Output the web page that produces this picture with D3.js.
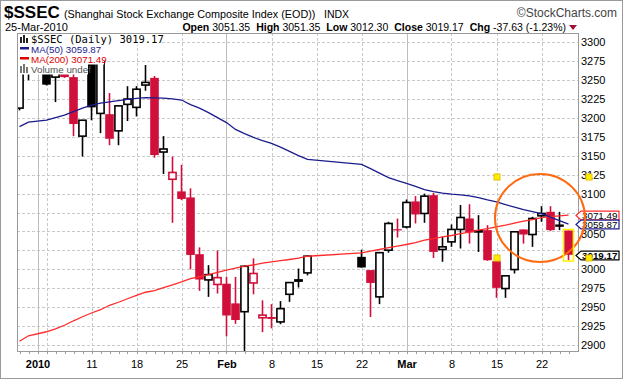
<!DOCTYPE html>
<html>
<head>
<meta charset="utf-8">
<script src="https://cdn.jsdelivr.net/npm/d3@7/dist/d3.min.js"></script>
<style>
  body { margin: 0; background: #fff; }
  svg text { font-family: "Liberation Sans", Arial, sans-serif; }
</style>
</head>
<body>
<div id="chart"></div>
<script>
// trading days shown ($SSEC daily, Dec 30 2009 - Mar 25 2010)
const dates = [
  '2009-12-30','2009-12-31','2010-01-04','2010-01-05','2010-01-06','2010-01-07','2010-01-08',
  '2010-01-11','2010-01-12','2010-01-13','2010-01-14','2010-01-15','2010-01-18','2010-01-19',
  '2010-01-20','2010-01-21','2010-01-22','2010-01-25','2010-01-26','2010-01-27','2010-01-28',
  '2010-01-29','2010-02-01','2010-02-02','2010-02-03','2010-02-04','2010-02-05','2010-02-08',
  '2010-02-09','2010-02-10','2010-02-11','2010-02-12','2010-02-22','2010-02-23','2010-02-24',
  '2010-02-25','2010-02-26','2010-03-01','2010-03-02','2010-03-03','2010-03-04','2010-03-05',
  '2010-03-08','2010-03-09','2010-03-10','2010-03-11','2010-03-12','2010-03-15','2010-03-16',
  '2010-03-17','2010-03-18','2010-03-19','2010-03-22','2010-03-23','2010-03-24','2010-03-25'
];
const opens = [
  3213, 3263, 3290, 3254, 3278, 3254, 3176,
  3303, 3206, 3205, 3183, 3218, 3214, 3243.5,
  3253, 3155, 3119, 3103, 3095, 3020, 2986,
  2980, 2981, 2955, 2944, 2982, 2936, 2937,
  2930.5, 2967, 2985, 2995.3, 3016.5, 2999, 2963.6,
  3025.3, 3053, 3056, 3089.7, 3073.8, 3098, 3026.2,
  3036.3, 3052.7, 3067.2, 3049.5, 3051.8, 3010.8, 2974.6,
  2999.7, 3052.7, 3046, 3070.7, 3076, 3059.3, 3051.35
];
const highs = [
  3266, 3281, 3295, 3290, 3296, 3268, 3197,
  3306, 3282, 3233, 3217, 3242, 3242, 3270,
  3255.5, 3176, 3149, 3138, 3107, 3029, 3005.5,
  3025, 2990, 2990, 3005.5, 3014.5, 2959, 2954,
  2958, 2982.5, 3001, 3018.7, 3026, 2999, 3022,
  3062.8, 3067, 3092.3, 3096.7, 3100, 3101, 3043,
  3059.3, 3085, 3086, 3071.6, 3058.4, 3010.8, 2991.4,
  3049.6, 3052.7, 3069.4, 3083.5, 3083.5, 3076, 3051.35
];
const lows = [
  3210, 3250, 3243, 3221, 3253, 3176, 3149,
  3197, 3180, 3164, 3164, 3196, 3202, 3236,
  3147.5, 3126, 3061.5, 3091.5, 3000, 2971.5, 2963.6,
  2968, 2911.5, 2928, 2888, 2967, 2917, 2922,
  2927.5, 2957, 2976, 2992, 3002.4, 2937, 2954,
  3022, 3042, 3054, 3060.6, 3061.5, 3015, 3010,
  3029.7, 3027.5, 3034, 3023, 3011.2, 2962.3, 2962.3,
  2994.5, 3034, 3029.7, 3062.8, 3050.5, 3051.8, 3012.3
];
const closes = [
  3262, 3277, 3244, 3282, 3254, 3192, 3197,
  3214, 3274, 3172.5, 3216, 3225, 3238, 3247,
  3151, 3159, 3128, 3093, 3019, 2986.5, 2993,
  2989, 2939, 2933, 3004, 2994.5, 2939.5, 2934.5,
  2948, 2982.5, 2986, 3017.4, 3002.4, 2982, 3022,
  3060.6, 3051.5, 3088.4, 3072.5, 3096.7, 3023, 3029.7,
  3052.7, 3068.5, 3048.7, 3051, 3012, 2975.5, 2991.4,
  3049.6, 3046, 3067.2, 3073.8, 3051.8, 3056.2, 3019.17
];
const ma50 = [
  3188.5, 3194.6, 3197.2, 3200.5, 3203.8, 3208.5, 3213.1,
  3217.1, 3219.7, 3221.4, 3223.0, 3224.6, 3225.9, 3227.0,
  3226.6, 3226.3, 3225.3, 3223.7, 3217.7, 3213.1, 3207.1,
  3200.5, 3193.9, 3184.9, 3179.4, 3174.3, 3170.1, 3166.4,
  3161.5, 3155.8, 3150.3, 3145.2, 3138.6, 3133.1, 3127.1,
  3121.2, 3117.2, 3113.5, 3109.5, 3105.3, 3102.6, 3100.7,
  3099.3, 3098.3, 3097.1, 3094.7, 3091.8, 3089.2, 3085.4,
  3082.1, 3078.8, 3076.2, 3073.5, 3068.9, 3064.3, 3059.87
];
const ma200 = [
  2904.9, 2912.2, 2917.5, 2921.4, 2926.1, 2932.0, 2937.3,
  2942.3, 2946.6, 2952.5, 2956.5, 2961.1, 2965.7, 2969.7,
  2971.9, 2975.7, 2979.6, 2983.3, 2987.6, 2990.2, 2992.9,
  2995.9, 2998.8, 3001.5, 3004.1, 3005.7, 3008.1, 3009.8,
  3011.4, 3013.0, 3014.7, 3017.3, 3021.7, 3024.0, 3026.2,
  3028.6, 3030.6, 3032.8, 3035.2, 3038.5, 3040.7, 3042.9,
  3044.7, 3047.1, 3049.1, 3051.7, 3053.7, 3056.1, 3058.3,
  3061.0, 3063.6, 3065.6, 3068.3, 3069.6, 3070.5, 3071.49
];
const priceTicks = [2900, 2925, 2950, 2975, 3000, 3025, 3050, 3075, 3100,
                    3125, 3150, 3175, 3200, 3225, 3250, 3275, 3300];
const xTickDates = ['2010-01-01','2010-01-11','2010-01-18','2010-01-25','2010-02-01','2010-02-08',
                    '2010-02-15','2010-02-22','2010-03-01','2010-03-08','2010-03-15','2010-03-22'];
const xTickLabels = ['2010','11','18','25','Feb','8','15','22','Mar','8','15','22'];
const boldTicks = ['2010','Feb','Mar'];
const monthLines = ['2010-01-01','2010-02-01','2010-03-01'];
const weekLines = ['2010-01-04','2010-01-11','2010-01-18','2010-01-25','2010-02-08',
                   '2010-02-15','2010-02-22','2010-03-08','2010-03-15','2010-03-22'];

const W = 623, H = 379;
const plot = {left: 17, right: 578, top: 33, bottom: 351};
const RED = '#d0103a', NAVY = '#1c1c8c', MARED = '#ff2a2a';

// weekday position, weekends dropped, holidays kept as gaps
const parse = d3.utcParse('%Y-%m-%d');
const day0 = parse(dates[0]);
function wd(s) {
    const d = parse(s);
    return d3.utcDays(day0, d).filter(t => t.getUTCDay() % 6 !== 0).length;
}
const idx = dates.map(wd);

const x = d3.scaleLinear().domain([0, 61]).range([19.5, 568.5]);
const y = d3.scaleLinear().domain([2900, 3300]).range([345, 42.3]);

const svg = d3.select('#chart').append('svg')
    .attr('width', W).attr('height', H);

svg.append('rect').attr('x', 0.5).attr('y', 0.5).attr('width', W - 1).attr('height', H - 1)
    .attr('fill', '#fff').attr('stroke', '#9a9a9a');

svg.append('clipPath').attr('id', 'clip')
    .append('rect')
    .attr('x', plot.left).attr('y', plot.top)
    .attr('width', plot.right - plot.left).attr('height', plot.bottom - plot.top);

// grid
const grid = svg.append('g').attr('clip-path', 'url(#clip)');
grid.selectAll('.hgrid').data(priceTicks).enter().append('line')
    .attr('x1', plot.left).attr('x2', plot.right)
    .attr('y1', d => Math.round(y(d)) + 0.5).attr('y2', d => Math.round(y(d)) + 0.5)
    .attr('stroke', '#c9c9c9').attr('stroke-dasharray', '3,2');
grid.selectAll('.vgrid').data(weekLines).enter().append('line')
    .attr('x1', d => Math.round(x(wd(d))) + 0.5).attr('x2', d => Math.round(x(wd(d))) + 0.5)
    .attr('y1', plot.top).attr('y2', plot.bottom)
    .attr('stroke', '#c9c9c9').attr('stroke-dasharray', '3,2');
grid.selectAll('.mgrid').data(monthLines).enter().append('line')
    .attr('x1', d => Math.round(x(wd(d))) + 0.5).attr('x2', d => Math.round(x(wd(d))) + 0.5)
    .attr('y1', plot.top).attr('y2', plot.bottom)
    .attr('stroke', '#bdbdbd');

// candles: hollow when close >= open, red when below previous close
// (first session after a holiday gap is drawn black)
const candles = dates.map((d, i) => {
    const prevGap = i === 0 || idx[i] - idx[i - 1] > 1;
    const down = !prevGap && closes[i] < closes[i - 1];
    return {i: idx[i], o: opens[i], h: highs[i], l: lows[i], c: closes[i],
            color: down ? RED : '#000', hollow: closes[i] >= opens[i]};
});

const cg = svg.append('g').attr('clip-path', 'url(#clip)');
cg.selectAll('.wick').data(candles).enter().append('line')
    .attr('x1', d => x(d.i)).attr('x2', d => x(d.i))
    .attr('y1', d => y(d.h)).attr('y2', d => y(d.l))
    .attr('stroke', d => d.color).attr('stroke-width', 1.6);
cg.selectAll('.body').data(candles).enter().append('rect')
    .attr('x', d => x(d.i) - (d.hollow ? 3.6 : 4.3))
    .attr('width', d => d.hollow ? 7.2 : 8.6)
    .attr('y', d => y(Math.max(d.o, d.c)))
    .attr('height', d => Math.max(1.2, y(Math.min(d.o, d.c)) - y(Math.max(d.o, d.c))))
    .attr('fill', d => d.hollow ? '#fff' : d.color)
    .attr('stroke', d => d.hollow ? d.color : 'none')
    .attr('stroke-width', 1.6);

// moving averages
const line = d3.line().x(d => x(d[0])).y(d => y(d[1]));
cg.append('path').datum(idx.map((v, i) => [v, ma200[i]]))
    .attr('d', line).attr('fill', 'none').attr('stroke', MARED).attr('stroke-width', 1.3);
cg.append('path').datum(idx.map((v, i) => [v, ma50[i]]))
    .attr('d', line).attr('fill', 'none').attr('stroke', NAVY).attr('stroke-width', 1.3);

// frame
svg.append('rect').attr('x', plot.left + 0.5).attr('y', plot.top + 0.5)
    .attr('width', plot.right - plot.left).attr('height', plot.bottom - plot.top)
    .attr('fill', 'none').attr('stroke', '#9a9a9a');

// day ticks under the frame
svg.selectAll('.dtick').data(d3.range(0, 62)).enter().append('line')
    .attr('x1', d => Math.round(x(d)) + 0.5).attr('x2', d => Math.round(x(d)) + 0.5)
    .attr('y1', plot.bottom + 1).attr('y2', plot.bottom + 3)
    .attr('stroke', '#9a9a9a');

// value tags on the right edge; axis labels they hide are left out
const tags = [
    {v: ma200[ma200.length - 1], stroke: MARED, bold: false},
    {v: ma50[ma50.length - 1], stroke: NAVY, bold: false},
    {v: closes[closes.length - 1], stroke: '#000', bold: true}
];
const shownTicks = priceTicks.filter(t => tags.every(g => Math.abs(y(t) - y(g.v)) > 5));

// axes
const yAxis = d3.axisRight(y).tickValues(shownTicks).tickSize(0).tickPadding(3)
    .tickFormat(d3.format('d'));
const ya = svg.append('g').attr('transform', 'translate(' + plot.right + ',0)').call(yAxis);
ya.select('.domain').remove();
ya.selectAll('text').attr('font-size', 11).attr('fill', '#000')
    .style('font-family', '"Liberation Sans", Arial, sans-serif');
// the 3050 label sits half under the MA(50) tag, as in the original
ya.selectAll('.tick').filter(d => d === 3050).select('text').attr('dy', '0.55em');

const xAxis = d3.axisBottom(x).tickValues(xTickDates.map(wd)).tickSize(0).tickPadding(9)
    .tickFormat((d, i) => xTickLabels[i]);
const xa = svg.append('g').attr('transform', 'translate(0,' + plot.bottom + ')').call(xAxis);
xa.select('.domain').remove();
xa.selectAll('text').attr('font-size', 11).attr('fill', '#000')
    .style('font-family', '"Liberation Sans", Arial, sans-serif')
    .attr('font-weight', (d, i) => boldTicks.includes(xTickLabels[i]) ? 'bold' : 'normal');

const tg = svg.selectAll('.tag').data(tags).enter().append('g')
    .attr('transform', d => 'translate(' + (plot.right - 2) + ',' + (Math.round(y(d.v)) + 0.5) + ')');
tg.append('path')
    .attr('d', 'M0,0 L5,-4.4 L43,-4.4 L43,4.4 L5,4.4 Z')
    .attr('fill', '#fff').attr('stroke', d => d.stroke).attr('stroke-width', 1.2);
tg.append('text').attr('x', 6).attr('y', 3.4)
    .attr('font-size', 9.8).attr('font-weight', d => d.bold ? 'bold' : 'normal')
    .text(d => d.v.toFixed(2));

// annotation: circle and selection handles
svg.append('ellipse').attr('cx', 540).attr('cy', 218).attr('rx', 45).attr('ry', 44)
    .attr('fill', 'none').attr('stroke', '#ff6a10').attr('stroke-width', 2);
const last = candles[candles.length - 1];
svg.append('rect')
    .attr('x', x(last.i) - 5).attr('y', y(last.o) - 1)
    .attr('width', 10).attr('height', y(last.l) - y(last.o) + 2)
    .attr('fill', 'none').attr('stroke', '#ffee00').attr('stroke-width', 1.5);
const handles = [[497, 177], [589, 177], [497, 258], [589, 258]];
svg.selectAll('.handle').data(handles).enter().append('rect')
    .attr('x', d => d[0] - 3).attr('y', d => d[1] - 3).attr('width', 6).attr('height', 6)
    .attr('fill', '#ffee00').attr('stroke', '#e8c000');

// legend box
const lg = svg.append('g');
const lgLines = [
    {t: '$SSEC (Daily) 3019.17', w: 141, color: '#000', mono: true},
    {t: 'MA(50) 3059.87', w: 78, color: NAVY},
    {t: 'MA(200) 3071.49', w: 86, color: '#e00000'},
    {t: 'Volume undef', w: 70, color: '#555'}
];
lgLines.forEach((d, i) => {
    lg.append('rect').attr('x', plot.left + 1).attr('y', plot.top + 1 + i * 10)
        .attr('width', d.w).attr('height', 10.5).attr('fill', '#fff');
});
lgLines.forEach((d, i) => {
    lg.append('text').attr('x', 31).attr('y', plot.top + 9.5 + i * 10.2)
        .attr('font-size', d.mono ? 10.5 : 9.8).attr('fill', d.color)
        .style('font-family', d.mono ? '"DejaVu Sans Mono", monospace' : '"Liberation Sans", Arial, sans-serif')
        .text(d.t);
});
lg.append('rect').attr('x', 20).attr('y', 47).attr('width', 9).attr('height', 2.5).attr('fill', NAVY);
lg.append('rect').attr('x', 20).attr('y', 57).attr('width', 9).attr('height', 2.5).attr('fill', '#e00000');
// small icons
[[20, 37, 2, 6], [23, 35, 2, 8], [26, 38, 2, 5]].forEach(r =>
    lg.append('rect').attr('x', r[0]).attr('y', r[1]).attr('width', r[2]).attr('height', r[3]).attr('fill', '#222'));
[[20, 66, 2, 7], [23, 64, 2, 9], [26, 67, 2, 6]].forEach(r =>
    lg.append('rect').attr('x', r[0]).attr('y', r[1]).attr('width', r[2]).attr('height', r[3]).attr('fill', '#777'));

// header
const hd = svg.append('g');
hd.append('text').attr('x', 4).attr('y', 18).attr('font-size', 17).attr('font-weight', 'bold').text('$SSEC');
hd.append('text').attr('x', 64).attr('y', 18).attr('font-size', 10.8)
    .text('(Shanghai Stock Exchange Composite Index (EOD))');
hd.append('text').attr('x', 324).attr('y', 18).attr('font-size', 10.5).text('INDX');
hd.append('text').attr('x', 617).attr('y', 17).attr('font-size', 12).attr('text-anchor', 'end')
    .attr('fill', '#444').text('\u00a9StockCharts.com');
hd.append('text').attr('x', 5).attr('y', 31).attr('font-size', 11).text('25-Mar-2010');
const ohlc = hd.append('text').attr('x', 566).attr('y', 31).attr('font-size', 10.5)
    .attr('text-anchor', 'end');
[['Open', ' 3051.35'], ['High', ' 3051.35'], ['Low', ' 3012.30'],
 ['Close', ' 3019.17'], ['Chg', ' -37.63 (-1.23%)']].forEach((p, k) => {
    ohlc.append('tspan').attr('font-weight', 'bold').attr('dx', k ? 6 : 0).text(p[0]);
    ohlc.append('tspan').text(p[1]);
});
hd.append('path').attr('d', 'M569,25 L577,25 L573,30 Z').attr('fill', '#a0103a');
</script>
</body>
</html>
